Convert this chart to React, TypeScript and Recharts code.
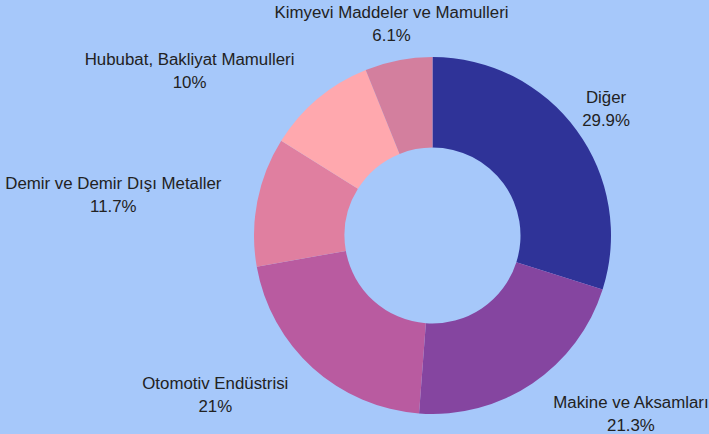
import React from "react";
import { PieChart, Pie, Cell } from "recharts";

const categories = [
  "Diğer",
  "Makine ve Aksamları",
  "Otomotiv Endüstrisi",
  "Demir ve Demir Dışı Metaller",
  "Hububat, Bakliyat Mamulleri",
  "Kimyevi Maddeler ve Mamulleri",
];
const shares = [29.9, 21.3, 21, 11.7, 10, 6.1];
const percentLabels = ["29.9%", "21.3%", "21%", "11.7%", "10%", "6.1%"];
const colors = ["#2f3398", "#8545a0", "#b95ba0", "#e07fa0", "#ffa8ae", "#d37f9e"];

const data = categories.map((name, i) => ({ name, value: shares[i] }));

const FONT_SIZE = 16.85;
const FONT_FAMILY = "'Liberation Sans', Arial, sans-serif";
const LINE_GAP = 23;
const LABEL_OFFSET = 36.5;

let ctx: CanvasRenderingContext2D | null = null;
function measure(text: string): number {
  if (!ctx) {
    const c = document.createElement("canvas");
    ctx = c.getContext("2d");
  }
  if (!ctx) return text.length * FONT_SIZE * 0.5;
  ctx.font = `${FONT_SIZE}px 'Liberation Sans', Arial, sans-serif`;
  return ctx.measureText(text).width;
}

const RAD = Math.PI / 180;

function renderLabel(props: any) {
  const { cx, cy, midAngle, outerRadius, index } = props;
  const r = outerRadius + LABEL_OFFSET;
  const x = cx + r * Math.cos(-midAngle * RAD);
  const y = cy + r * Math.sin(-midAngle * RAD);
  const l1 = categories[index];
  const l2 = percentLabels[index];
  const w = Math.max(measure(l1), measure(l2));
  const halfH = LINE_GAP;
  const left = x - w / 2;
  const right = x + w / 2;
  const top = y - halfH;
  const bottom = y + halfH;
  const nx = Math.min(Math.max(cx, left), right);
  const ny = Math.min(Math.max(cy, top), bottom);
  const dist = Math.hypot(nx - cx, ny - cy);
  let centerX = x;
  if (dist < outerRadius) {
    if (x >= cx) centerX = x + w / 2;
    else centerX = x - w / 2;
  }
  return (
    <g key={`lbl-${index}`}>
      <text
        x={centerX}
        y={y - LINE_GAP / 2}
        textAnchor="middle"
        dominantBaseline="central"
        fill="#222222"
        fontSize={FONT_SIZE}
        fontFamily={FONT_FAMILY}
      >
        {l1}
      </text>
      <text
        x={centerX}
        y={y + LINE_GAP / 2}
        textAnchor="middle"
        dominantBaseline="central"
        fill="#222222"
        fontSize={FONT_SIZE}
        fontFamily={FONT_FAMILY}
      >
        {l2}
      </text>
    </g>
  );
}

export default function App() {
  return (
    <div style={{ width: 709, height: 434, background: "#a6c8fa", position: "absolute", left: 0, top: 0 }}>
      <style>{"body{margin:0;}"}</style>
      <PieChart width={709} height={434} margin={{ top: 0, right: 0, bottom: 0, left: 0 }}>
        <Pie
          data={data}
          dataKey="value"
          nameKey="name"
          cx={432.5}
          cy={235.5}
          innerRadius={88}
          outerRadius={178.5}
          startAngle={90}
          endAngle={-270}
          paddingAngle={0}
          stroke="none"
          label={renderLabel}
          labelLine={false}
          isAnimationActive={false}
        >
          {data.map((d, i) => (
            <Cell key={d.name} fill={colors[i]} stroke="none" />
          ))}
        </Pie>
      </PieChart>
    </div>
  );
}
